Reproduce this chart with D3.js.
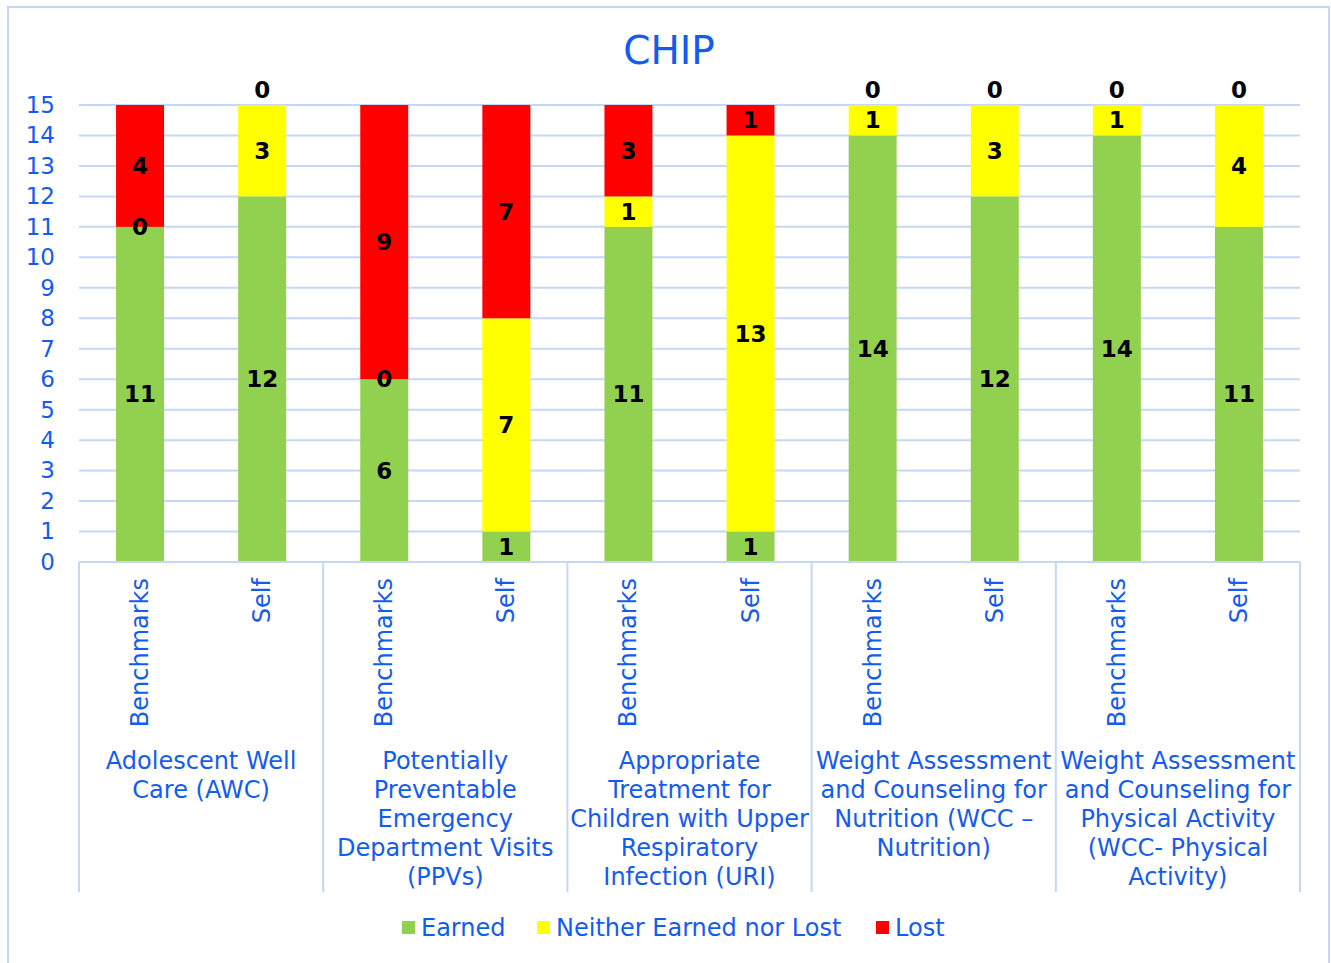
<!DOCTYPE html>
<html>
<head>
<meta charset="utf-8">
<script src="https://cdn.jsdelivr.net/npm/d3@7"></script>
<style>
  body { margin: 0; background: #fff; }
  text { font-family: "DejaVu Sans", Verdana, sans-serif; }
</style>
</head>
<body>
<script>
// chart data
const groups = [
  ["Adolescent Well", "Care (AWC)"],
  ["Potentially", "Preventable", "Emergency", "Department Visits", "(PPVs)"],
  ["Appropriate", "Treatment for", "Children with Upper", "Respiratory", "Infection (URI)"],
  ["Weight Assessment", "and Counseling for", "Nutrition (WCC \u2013", "Nutrition)"],
  ["Weight Assessment", "and Counseling for", "Physical Activity", "(WCC- Physical", "Activity)"]
]
const bars = ["Benchmarks", "Self"]
const seriesNames = ["Earned", "Neither Earned nor Lost", "Lost"]
const earned  = [11, 12, 6, 1, 11, 1, 14, 12, 14, 11]
const neither = [0, 3, 0, 7, 1, 13, 1, 3, 1, 4]
const lost    = [4, 0, 9, 7, 3, 1, 0, 0, 0, 0]
const yTicks = [0, 1, 2, 3, 4, 5, 6, 7, 8, 9, 10, 11, 12, 13, 14, 15]

const colors = ["#92d050", "#ffff00", "#ff0000"]
const blue = "#135cf0"
const lineColor = "#c6d6f6"

const W = 1331, H = 963
const plotL = 79, plotR = 1300, plotT = 105, plotB = 562

var svg = d3.select("body")
  .append("svg")
  .attr("width", W)
  .attr("height", H)

// outer frame
svg.append("rect")
  .attr("x", 8).attr("y", 7)
  .attr("width", 1321).attr("height", 970)
  .attr("fill", "none")
  .attr("stroke", lineColor)
  .attr("stroke-width", 2)

svg.append("text")
  .attr("x", 669).attr("y", 64)
  .attr("text-anchor", "middle")
  .attr("fill", blue)
  .style("font-size", "39px")
  .text("CHIP")

// build rows
const keys = []
groups.forEach((g, gi) => bars.forEach(b => keys.push(gi + "-" + b)))
const rows = keys.map((k, i) => ({ key: k, bar: bars[i % 2], e: earned[i], n: neither[i], l: lost[i] }))

const x = d3.scaleBand()
  .domain(keys)
  .range([plotL, plotR])
  .paddingInner(0.607)
  .paddingOuter(0.3035)

const y = d3.scaleLinear()
  .domain([0, 15])
  .range([plotB, plotT])

// gridlines
svg.append("g")
  .selectAll("line")
  .data(yTicks.filter(t => t > 0))
  .enter()
  .append("line")
  .attr("x1", plotL).attr("x2", plotR)
  .attr("y1", d => y(d)).attr("y2", d => y(d))
  .attr("stroke", lineColor)
  .attr("stroke-width", 2)

// y axis labels
const yAxis = d3.axisLeft(y).tickValues(yTicks).tickSize(0).tickPadding(24)
const ya = svg.append("g")
  .attr("transform", "translate(" + plotL + ",0)")
  .call(yAxis)
ya.select(".domain").remove()
ya.selectAll("text")
  .attr("fill", blue)
  .style("font-size", "23px")
  .style("font-family", "DejaVu Sans, Verdana, sans-serif")

// stacked bars
const stack = d3.stack().keys(["e", "n", "l"])
const stacked = stack(rows)

svg.append("g")
  .selectAll("g")
  .data(stacked)
  .enter()
  .append("g")
  .attr("fill", (d, i) => colors[i])
  .selectAll("rect")
  .data(d => d)
  .enter()
  .append("rect")
  .attr("x", d => x(d.data.key))
  .attr("width", x.bandwidth())
  .attr("y", d => y(d[1]))
  .attr("height", d => y(d[0]) - y(d[1]))

// value labels
stacked.forEach((s, si) => {
  svg.append("g")
    .selectAll("text")
    .data(s)
    .enter()
    .append("text")
    .attr("x", d => x(d.data.key) + x.bandwidth() / 2)
    .attr("y", d => {
      const v = d[1] - d[0]
      if (si === 2 && v === 0) return y(d[1]) - 7
      return y((d[0] + d[1]) / 2) + 8
    })
    .attr("text-anchor", "middle")
    .attr("fill", "#000")
    .style("font-size", "23px")
    .style("font-weight", "bold")
    .text(d => d[1] - d[0])
})

// category axis
svg.append("line")
  .attr("x1", plotL).attr("x2", plotR)
  .attr("y1", plotB).attr("y2", plotB)
  .attr("stroke", lineColor)
  .attr("stroke-width", 2)

const gw = (plotR - plotL) / groups.length
svg.append("g")
  .selectAll("line")
  .data(d3.range(groups.length + 1))
  .enter()
  .append("line")
  .attr("x1", d => plotL + d * gw).attr("x2", d => plotL + d * gw)
  .attr("y1", plotB).attr("y2", 892)
  .attr("stroke", lineColor)
  .attr("stroke-width", 2)

svg.append("g")
  .selectAll("text")
  .data(rows)
  .enter()
  .append("text")
  .attr("transform", d => "translate(" + (x(d.key) + x.bandwidth() / 2 + 8) + "," + 578 + ") rotate(-90)")
  .attr("text-anchor", "end")
  .attr("fill", blue)
  .style("font-size", "24px")
  .text(d => d.bar)

groups.forEach((lines, gi) => {
  const t = svg.append("text")
    .attr("text-anchor", "middle")
    .attr("fill", blue)
    .style("font-size", "24px")
  lines.forEach((ln, li) => {
    t.append("tspan")
      .attr("x", plotL + gw * (gi + 0.5))
      .attr("y", 769 + li * 29)
      .text(ln)
  })
})

// legend
const legendX = [402, 537, 876]
const lg = svg.append("g")
seriesNames.forEach((name, i) => {
  lg.append("rect")
    .attr("x", legendX[i]).attr("y", 921)
    .attr("width", 13).attr("height", 13)
    .attr("fill", colors[i])
  lg.append("text")
    .attr("x", legendX[i] + 19).attr("y", 936)
    .attr("fill", blue)
    .style("font-size", "24px")
    .text(name)
})
</script>
</body>
</html>
